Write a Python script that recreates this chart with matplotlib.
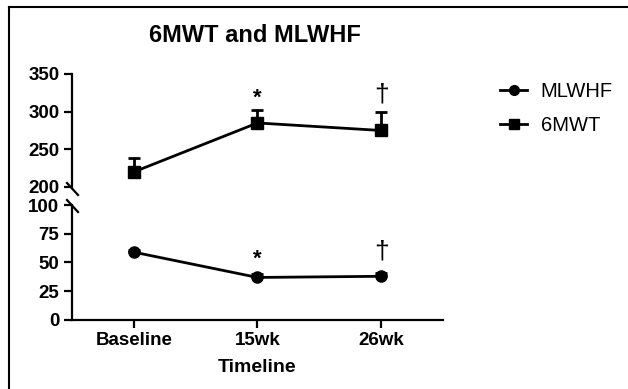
import matplotlib
matplotlib.use("Agg")
import matplotlib.pyplot as plt
from matplotlib.lines import Line2D

plt.rcParams["font.family"] = ["Liberation Sans", "DejaVu Sans"]

timeline = ["Baseline", "15wk", "26wk"]
walk_mean = [220, 285, 275]
walk_err = [18, 17, 25]
mlwhf_mean = [59, 37, 38]
mlwhf_err = [2, 3, 3]
walk_marks = ["", "*", "\u2020"]
mlwhf_marks = ["", "*", "\u2020"]

x = list(range(len(timeline)))

fig = plt.figure(figsize=(6.28, 3.89), dpi=100)
ax_top = fig.add_axes([0.1146, 0.5193, 0.5908, 0.2905])
ax_bot = fig.add_axes([0.1146, 0.1774, 0.5908, 0.2956])

lw = 1.6
for ax in (ax_top, ax_bot):
    ax.spines["top"].set_visible(False)
    ax.spines["right"].set_visible(False)
    ax.spines["left"].set_linewidth(lw)
    ax.spines["bottom"].set_linewidth(lw)
    ax.tick_params(axis="both", width=lw, length=6, labelsize=13.5, pad=3)
    ax.set_xlim(-0.5, 2.5)

# upper panel: 6MWT
ax_top.errorbar(x, walk_mean, yerr=[[0] * 3, walk_err], color="black", lw=2,
                marker="s", ms=8, capsize=4, capthick=2, elinewidth=2)
ax_top.set_ylim(200, 350)
ax_top.set_yticks([200, 250, 300, 350])
ax_top.spines["bottom"].set_visible(False)
ax_top.tick_params(axis="x", bottom=False, labelbottom=False)
for xi, m, e, s in zip(x, walk_mean, walk_err, walk_marks):
    if s == "*":
        ax_top.text(xi, m + e + 2, s, ha="center", va="bottom", fontsize=16,
                    fontweight="bold")
    elif s:
        ax_top.text(xi, m + e + 7, s, ha="center", va="bottom", fontsize=19)

# lower panel: MLWHF
ax_bot.errorbar(x, mlwhf_mean, yerr=[[0] * 3, mlwhf_err], color="black", lw=2,
                marker="o", ms=8, capsize=4, capthick=2, elinewidth=2)
ax_bot.set_ylim(0, 100)
ax_bot.set_yticks([0, 25, 50, 75, 100])
ax_bot.set_xticks(x)
ax_bot.set_xticklabels(timeline, fontweight="bold")
ax_bot.set_xlabel("Timeline", fontsize=14, fontweight="bold", labelpad=7)
for xi, m, e, s in zip(x, mlwhf_mean, mlwhf_err, mlwhf_marks):
    if s == "*":
        ax_bot.text(xi, m + e + 4, s, ha="center", va="bottom", fontsize=16,
                    fontweight="bold")
    elif s:
        ax_bot.text(xi, m + e + 8, s, ha="center", va="bottom", fontsize=19)

for ax in (ax_top, ax_bot):
    for lab in ax.get_yticklabels():
        lab.set_fontweight("bold")

# axis break marks
kw = dict(transform=fig.transFigure, color="black", lw=1.6, clip_on=False)
fig.add_artist(Line2D([67 / 628, 78 / 628], [1 - 183 / 389, 1 - 195 / 389], **kw))
fig.add_artist(Line2D([67 / 628, 78 / 628], [1 - 200 / 389, 1 - 212 / 389], **kw))

fig.text(0.406, 0.91, "6MWT and MLWHF", ha="center", va="center",
         fontsize=17, fontweight="bold")

handles = [
    Line2D([], [], color="black", lw=2, marker="o", ms=7),
    Line2D([], [], color="black", lw=2, marker="s", ms=7),
]
fig.legend(handles, ["MLWHF", "6MWT"], loc="upper left",
           bbox_to_anchor=(0.768, 0.835), frameon=False, fontsize=14.5,
           handlelength=1.3, handletextpad=0.7, labelspacing=0.75)

# outer frame (top and left edges)
fig.add_artist(Line2D([9 / 628, 1], [1 - 7 / 389, 1 - 7 / 389],
                      transform=fig.transFigure, color="black", lw=1.5))
fig.add_artist(Line2D([9 / 628, 9 / 628], [0, 1 - 7 / 389],
                      transform=fig.transFigure, color="black", lw=1.5))

fig.savefig("out.png", dpi=100)
